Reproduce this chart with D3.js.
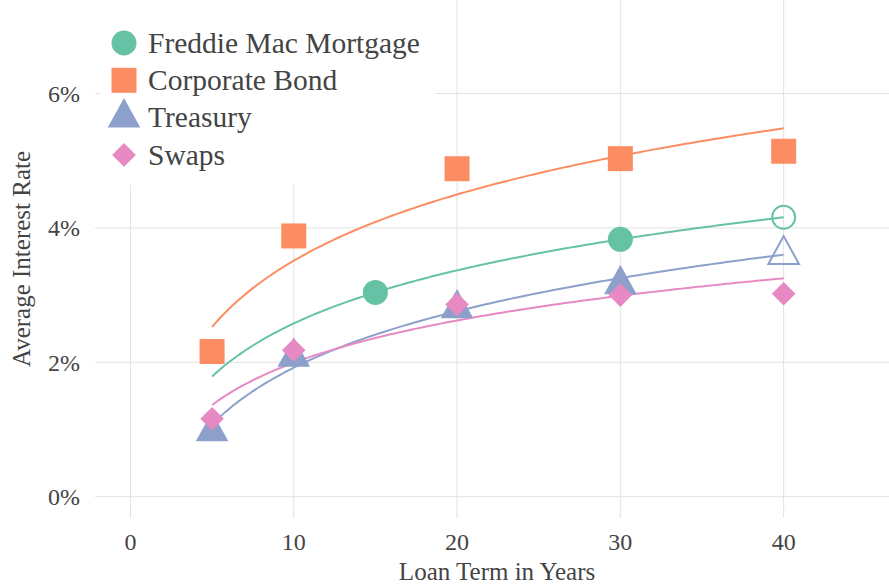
<!DOCTYPE html>
<html>
<head>
<meta charset="utf-8">
<script src="https://cdn.jsdelivr.net/npm/d3@7"></script>
<style>
  body { margin: 0; background: #fff; }
  svg { display: block; font-family: "Liberation Serif", "Times New Roman", serif; }
</style>
</head>
<body>
<div id="chart"></div>
<script>
// observed average rates (%) by loan term (years)
const seriesNames = ['Freddie Mac Mortgage', 'Corporate Bond', 'Treasury', 'Swaps'];
const freddieYears = [15, 30];
const freddieRates = [3.04, 3.83];
const corpYears = [5, 10, 20, 30, 40];
const corpRates = [2.16, 3.88, 4.88, 5.03, 5.14];
const treasYears = [5, 10, 20, 30];
const treasRates = [0.97, 2.08, 2.80, 3.16];
const swapYears = [5, 10, 20, 30, 40];
const swapRates = [1.16, 2.18, 2.86, 3.00, 3.02];
const xTicks = [0, 10, 20, 30, 40];
const yTicks = [0, 2, 4, 6];
const fitFrom = 5, fitTo = 40;

const colors = ['#66c2a5', '#fc8d62', '#8da0cb', '#e78ac3'];
const shapes = ['circle', 'square', 'triangle', 'diamond'];
const TEXT = '#444';

const W = 889, H = 586;
const m = { l: 95, r: 0, t: 0, b: 68 };

const x = d3.scaleLinear().domain([-2.17, 46.45]).range([m.l, W - m.r]);
const y = d3.scaleLinear().domain([-0.317, 7.391]).range([H - m.b, m.t]);

// least squares fit of rate = a + b*ln(term)
function logFit(xs, ys) {
  const lx = xs.map(Math.log);
  const mx = d3.mean(lx), my = d3.mean(ys);
  const b = d3.sum(lx, (v, i) => (v - mx) * (ys[i] - my)) / d3.sum(lx, v => (v - mx) ** 2);
  return { a: my - b * mx, b };
}

const series = [
  [freddieYears, freddieRates], [corpYears, corpRates],
  [treasYears, treasRates], [swapYears, swapRates]
].map(([xs, ys], i) => {
  const f = logFit(xs, ys);
  const pred = t => f.a + f.b * Math.log(t);
  return {
    name: seriesNames[i], color: colors[i], shape: shapes[i],
    pts: xs.map((t, j) => ({ t, r: ys[j] })),
    curve: d3.range(fitFrom, fitTo + 0.001, 0.25).map(t => ({ t, r: pred(t) })),
    // series without a 40-year observation get a hollow predicted marker
    hollow: xs.includes(fitTo) ? null : { t: fitTo, r: pred(fitTo) }
  };
});

function shapePath(shape) {
  if (shape === 'circle') return 'M12.5,0A12.5,12.5 0 1,1 -12.5,0A12.5,12.5 0 1,1 12.5,0Z';
  if (shape === 'square') return 'M-12.5,-12.5H12.5V12.5H-12.5Z';
  if (shape === 'triangle') return 'M0,-19.5L16.3,9.8H-16.3Z';
  return 'M0,-11.8L11.8,0L0,11.8L-11.8,0Z';
}
function hollowPath(shape) {
  if (shape === 'circle') return 'M11.5,0A11.5,11.5 0 1,1 -11.5,0A11.5,11.5 0 1,1 11.5,0Z';
  return 'M0,-18.5L15.3,9.3H-15.3Z';
}

const svg = d3.select('#chart').append('svg').attr('width', W).attr('height', H);

// grid
svg.append('g').selectAll('line').data(xTicks).join('line')
  .attr('x1', d => x(d)).attr('x2', d => x(d))
  .attr('y1', m.t).attr('y2', H - m.b)
  .attr('stroke', '#e2e2e2').attr('stroke-width', 1);
svg.append('g').selectAll('line').data(yTicks).join('line')
  .attr('x1', m.l).attr('x2', W - m.r)
  .attr('y1', d => y(d)).attr('y2', d => y(d))
  .attr('stroke', '#e2e2e2').attr('stroke-width', 1);

// tick labels
svg.append('g').selectAll('text').data(xTicks).join('text')
  .attr('x', d => x(d)).attr('y', 550)
  .attr('text-anchor', 'middle').attr('font-size', 24).attr('fill', TEXT)
  .text(d => d);
svg.append('g').selectAll('text').data(yTicks).join('text')
  .attr('x', 80).attr('y', d => y(d)).attr('dy', '0.35em')
  .attr('text-anchor', 'end').attr('font-size', 24).attr('fill', TEXT)
  .text(d => d + '%');

// axis titles
svg.append('text').attr('x', x(20) + 40).attr('y', 580)
  .attr('text-anchor', 'middle').attr('font-size', 25).attr('fill', TEXT)
  .text('Loan Term in Years');
svg.append('text')
  .attr('transform', `translate(30,${(m.t + H - m.b) / 2}) rotate(-90)`)
  .attr('text-anchor', 'middle').attr('font-size', 25).attr('fill', TEXT)
  .text('Average Interest Rate');

// fitted curves
const line = d3.line().x(d => x(d.t)).y(d => y(d.r)).curve(d3.curveLinear);
svg.append('g').selectAll('path').data(series).join('path')
  .attr('d', d => line(d.curve))
  .attr('fill', 'none').attr('stroke', d => d.color).attr('stroke-width', 2);

// markers
const mk = svg.append('g').selectAll('g').data(series).join('g');
mk.selectAll('path.pt').data(d => d.pts.map(p => ({ ...p, s: d }))).join('path')
  .attr('class', 'pt')
  .attr('transform', d => `translate(${x(d.t)},${y(d.r)})`)
  .attr('d', d => shapePath(d.s.shape)).attr('fill', d => d.s.color);
mk.filter(d => d.hollow).append('path')
  .attr('transform', d => `translate(${x(d.hollow.t)},${y(d.hollow.r)})`)
  .attr('d', d => hollowPath(d.shape))
  .attr('fill', 'none').attr('stroke', d => d.color).attr('stroke-width', 2);

// legend
const leg = svg.append('g');
leg.append('rect').attr('x', 100).attr('y', 0).attr('width', 335).attr('height', 185).attr('fill', '#fff');
const li = leg.selectAll('g').data(series).join('g')
  .attr('transform', (d, i) => `translate(124,${43 + i * 37.3})`);
li.append('path').attr('d', d => shapePath(d.shape)).attr('fill', d => d.color);
li.append('text').attr('x', 24).attr('dy', '0.33em')
  .attr('font-size', 29.5).attr('fill', TEXT).text(d => d.name);
</script>
</body>
</html>
